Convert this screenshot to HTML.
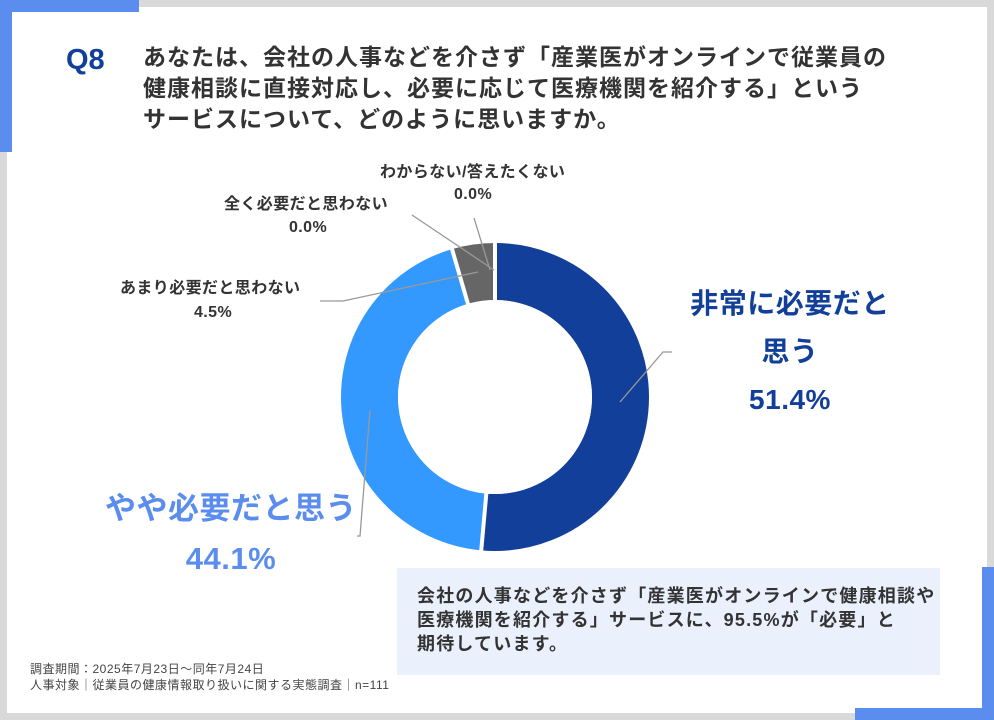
<!DOCTYPE html>
<html><head><meta charset="utf-8"><style>
body{margin:0;width:994px;height:720px;background:#d9d9d9;position:relative;overflow:hidden;font-family:"Liberation Sans","Noto Sans CJK JP",sans-serif;}
.abs{position:absolute;white-space:nowrap;}
.card{left:7px;top:7px;width:980px;height:706px;background:#fff;}
.t{color:#333;font-weight:bold;}
.s{font-size:16px;letter-spacing:0.4px;}
</style></head><body>
<div class="abs card"></div>
<div class="abs" style="left:0;top:0;width:139px;height:12px;background:#5b8def"></div>
<div class="abs" style="left:0;top:0;width:12px;height:152px;background:#5b8def"></div>
<div class="abs" style="left:982px;top:567px;width:12px;height:153px;background:#5b8def"></div>
<div class="abs" style="left:855px;top:708px;width:139px;height:12px;background:#5b8def"></div>

<div class="abs" style="left:66px;top:44px;font-size:29px;font-weight:bold;color:#123f99">Q8</div>
<div class="abs t" style="left:143px;top:42px;font-size:23px;letter-spacing:1px;line-height:31px;width:800px">あなたは、会社の人事などを介さず「産業医がオンラインで従業員の<br>健康相談に直接対応し、必要に応じて医療機関を紹介する」という<br>サービスについて、どのように思いますか。</div>

<svg class="abs" style="left:0;top:0" width="994" height="720">
<g transform="translate(495,397) rotate(-90)">
<circle r="125.5" fill="none" stroke="#123f99" stroke-width="57" stroke-dasharray="405.3 800"/>
<circle r="125.5" fill="none" stroke="#3399ff" stroke-width="57" stroke-dasharray="0 405.3 347.7 800"/>
<circle r="125.5" fill="none" stroke="#666" stroke-width="57" stroke-dasharray="0 753 35.5 800"/>
</g>
<g stroke="#fff" stroke-width="4">
<line x1="495" y1="397" x2="495" y2="240"/>
<line x1="495" y1="397" x2="481" y2="553"/>
<line x1="495" y1="397" x2="452" y2="249"/>
</g>
<circle cx="495" cy="397" r="97" fill="#fff"/>
<g stroke="#999" stroke-width="1.3" fill="none">
<polyline points="320,301 343,301 478,272"/>
<polyline points="412,215 494,270"/>
<polyline points="474,218 490,270"/>
<polyline points="620,402 663,352 672,352"/>
<polyline points="357,536 360,536 370,410"/>
</g>
</svg>

<div class="abs t s" style="left:380px;top:158px">わからない/答えたくない</div>
<div class="abs t s" style="left:454px;top:186px">0.0%</div>
<div class="abs t s" style="left:224px;top:190px">全く必要だと思わない</div>
<div class="abs t s" style="left:289px;top:219px">0.0%</div>
<div class="abs t s" style="left:120px;top:274px">あまり必要だと思わない</div>
<div class="abs t s" style="left:194px;top:304px">4.5%</div>

<div class="abs" style="left:670px;top:280px;width:240px;text-align:center;font-size:28px;letter-spacing:0.5px;line-height:48px;font-weight:bold;color:#123f99">非常に必要だと<br>思う<br>51.4%</div>
<div class="abs" style="left:86px;top:484px;width:290px;text-align:center;font-size:31px;letter-spacing:0.5px;line-height:50px;font-weight:bold;color:#5b8def">やや必要だと思う<br>44.1%</div>

<div class="abs" style="left:397px;top:568px;width:543px;height:107px;background:#eaf1fc"></div>
<div class="abs t" style="left:417px;top:584px;font-size:18px;letter-spacing:1.2px;line-height:24px;width:520px">会社の人事などを介さず「産業医がオンラインで健康相談や<br>医療機関を紹介する」サービスに、95.5%が「必要」と<br>期待しています。</div>

<div class="abs" style="left:30px;top:661px;font-size:12px;letter-spacing:0.5px;line-height:16px;color:#444">調査期間：2025年7月23日～同年7月24日<br>人事対象｜従業員の健康情報取り扱いに関する実態調査｜n=111</div>
</body></html>
